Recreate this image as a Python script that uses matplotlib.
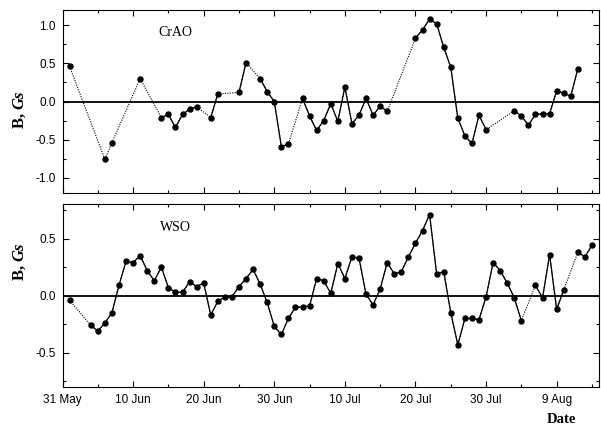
import numpy as np
import matplotlib
matplotlib.use('Agg')
import matplotlib.pyplot as plt
from matplotlib.ticker import MultipleLocator

# dias contados desde el 31 de mayo
dias_crao = [1, 6, 7, 11, 14, 15, 16, 17, 18, 19, 21, 22, 25, 26, 28, 29, 30, 31, 32,
             34, 35, 36, 37, 38, 39, 40, 41, 42, 43, 44, 45, 46,
             50, 51, 52, 53, 54, 55, 56, 57, 58, 59, 60,
             64, 65, 66, 67, 68, 69, 70, 71, 72, 73]
B_crao = [0.46, -0.76, -0.54, 0.30, -0.21, -0.17, -0.34, -0.17, -0.10, -0.07, -0.21, 0.10,
          0.12, 0.51, 0.30, 0.13, 0.0, -0.59, -0.56,
          0.04, -0.19, -0.38, -0.25, -0.03, -0.26, 0.19, -0.29, -0.18, 0.04, -0.18, -0.06, -0.13,
          0.83, 0.94, 1.08, 1.02, 0.71, 0.45, -0.22, -0.45, -0.55, -0.18, -0.37,
          -0.12, -0.19, -0.31, -0.17, -0.16, -0.16, 0.14, 0.11, 0.07, 0.43]
# tramos con linea continua (dia inicial, dia final)
tramos_crao = [(14, 19), (21, 22), (25, 26), (28, 32), (34, 46), (50, 60), (64, 73)]

dias_wso = [1, 4, 5, 6, 7, 8, 9, 10, 11, 12, 13, 14, 15, 16, 17, 18, 19, 20,
            21, 22, 23, 24, 25, 26, 27, 28, 29, 30, 31, 32, 33, 34, 35, 36, 37, 38, 39, 40,
            41, 42, 43, 44, 45, 46, 47, 48, 49, 50, 51, 52, 53, 54, 55, 56, 57, 58, 59, 60,
            61, 62, 63, 64, 65, 67, 68, 69, 70, 71, 73, 74, 75]
B_wso = [-0.04, -0.26, -0.31, -0.24, -0.15, 0.09, 0.30, 0.29, 0.35, 0.22, 0.13, 0.25, 0.07,
         0.03, 0.03, 0.12, 0.08, 0.11,
         -0.17, -0.05, -0.01, -0.01, 0.08, 0.15, 0.23, 0.10, -0.06, -0.27, -0.34, -0.20,
         -0.10, -0.10, -0.09, 0.15, 0.13, 0.02, 0.28, 0.15,
         0.34, 0.33, 0.01, -0.08, 0.06, 0.29, 0.19, 0.21, 0.34, 0.46, 0.57, 0.71, 0.19, 0.21,
         -0.15, -0.43, -0.20, -0.20, -0.21, -0.01,
         0.29, 0.22, 0.11, -0.02, -0.22, 0.09, -0.02, 0.36, -0.12, 0.05, 0.38, 0.34, 0.44]
tramos_wso = [(4, 65), (67, 71), (73, 75)]

dias_ticks = [0, 10, 20, 30, 40, 50, 60, 70]
etiquetas = ['31 May', '10 Jun', '20 Jun', '30 Jun', '10 Jul', '20 Jul', '30 Jul', '9 Aug']

plt.rcParams['font.family'] = ['Liberation Sans', 'DejaVu Sans']

fig = plt.figure(figsize=(6.01, 4.28), dpi=100)
ax1 = fig.add_axes([0.104, 0.549, 0.8927, 0.4276])
ax2 = fig.add_axes([0.104, 0.0958, 0.8927, 0.4269])


def panel(ax, dias, B, tramos, nombre, ylim, yticks, ly):
    dias = np.array(dias)
    B = np.array(B)
    ax.axhline(0, color='k', lw=1.3, zorder=1)
    # todo punteado y luego los tramos continuos encima
    ax.plot(dias, B, ls=(0, (1, 1.2)), lw=0.8, color='k', zorder=2)
    for a, b in tramos:
        m = (dias >= a) & (dias <= b)
        ax.plot(dias[m], B[m], '-', lw=0.9, color='k', zorder=3)
    ax.plot(dias, B, 'o', ms=3.6, color='k', zorder=4)
    ax.set_xlim(0, 76)
    ax.set_ylim(*ylim)
    ax.set_yticks(yticks)
    ax.yaxis.set_minor_locator(MultipleLocator(0.25))
    ax.set_xticks(dias_ticks)
    ax.xaxis.set_minor_locator(MultipleLocator(5))
    ax.tick_params(which='both', direction='in', top=True, right=True, labelsize=8.5, width=0.8)
    ax.tick_params(which='major', length=4.5, pad=5)
    ax.tick_params(which='minor', length=2.5)
    ax.set_yticklabels(['%.1f' % v for v in yticks])
    for s in ax.spines.values():
        s.set_linewidth(0.8)
    ax.text(0.211, 0.875, nombre, transform=ax.transAxes, ha='center', va='center',
            fontsize=10, family='Liberation Serif')
    # etiqueta del eje y con Gs en cursiva
    ax.text(-0.08, ly, 'B, ', transform=ax.transAxes, rotation=90, ha='center', va='top',
            fontsize=12, fontweight='bold', family='Liberation Serif')
    ax.text(-0.08, ly, 'Gs', transform=ax.transAxes, rotation=90, ha='center', va='bottom',
            fontsize=12, fontweight='bold', style='italic', family='Liberation Serif')


panel(ax1, dias_crao, B_crao, tramos_crao, 'CrAO', (-1.2, 1.2), [-1.0, -0.5, 0.0, 0.5, 1.0], 0.46)
panel(ax2, dias_wso, B_wso, tramos_wso, 'WSO', (-0.8, 0.8), [-0.5, 0.0, 0.5], 0.69)

ax1.set_xticklabels([])
ax2.set_xticklabels(etiquetas)
ax2.set_xlabel('Date', fontsize=10.5, fontweight='bold', family='Liberation Serif')
ax2.xaxis.set_label_coords(0.93, -0.18)
ax2.xaxis.label.set_va('center')

plt.savefig('out.png', dpi=100)
plt.close()
